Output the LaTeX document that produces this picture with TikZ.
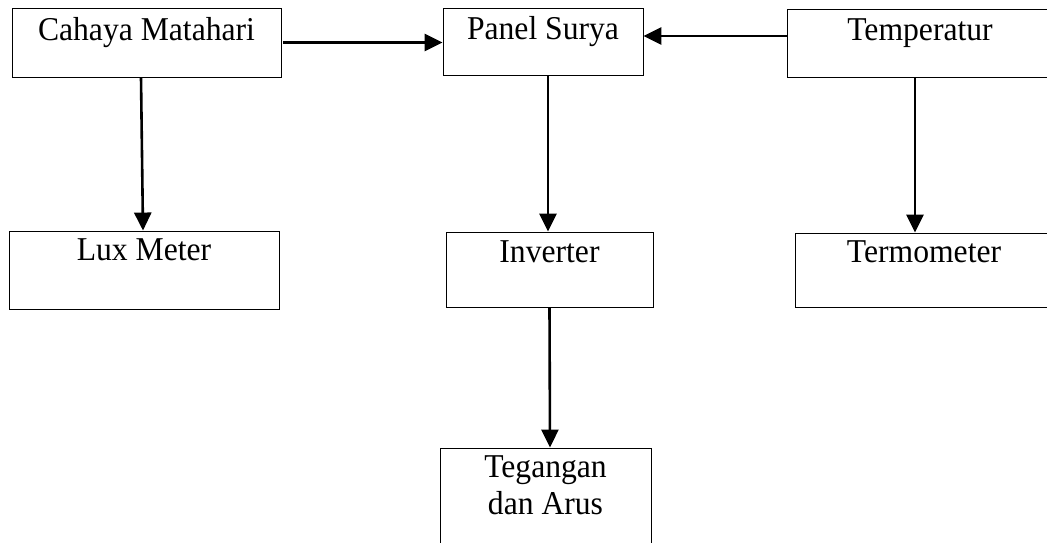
\documentclass[tikz,border=0pt]{standalone}
\usepackage{fontspec}
\setmainfont[FakeStretch=0.95]{Liberation Serif}
\usetikzlibrary{arrows.meta}

\tikzset{
  kotak/.style={draw, line width=0.9pt, inner sep=0pt},
  judul/.style={anchor=base, inner sep=0pt, font=\fontsize{33.3}{37}\selectfont, align=center},
  panah/.style={line width=2.6pt, -{Triangle[length=18pt,width=17pt]}}
}

\begin{document}
\begin{tikzpicture}[x=1pt,y=-1pt]
  \useasboundingbox (0,0) rectangle (1047,542);
  % kotak baris atas
  \node[kotak, minimum width=269pt, minimum height=69pt] (cahaya) at (146.5,42.5) {};
  \node[kotak, minimum width=200pt, minimum height=67pt] (panel) at (543,41.5) {};
  \node[kotak, minimum width=266pt, minimum height=68pt] (suhu) at (920,43) {};
  % kotak baris tengah
  \node[kotak, minimum width=270pt, minimum height=78pt] (lux) at (144,270) {};
  \node[kotak, minimum width=207pt, minimum height=75pt] (inverter) at (549.5,269.5) {};
  \node[kotak, minimum width=258pt, minimum height=74pt] (termo) at (924,270) {};
  % kotak bawah
  \node[kotak, minimum width=211pt, minimum height=110pt] (tegangan) at (545.5,503) {};

  % teks
  \node[judul] (tcahaya) at ([yshift=-33pt]cahaya.north) {Cahaya Matahari};
  \node[judul] (tpanel) at ([yshift=-32pt]panel.north) {Panel Surya};
  \node[judul] (tsuhu) at ([yshift=-32pt]suhu.north) {Temperatur};
  \node[judul] (tlux) at ([yshift=-30pt]lux.north) {Lux Meter};
  \node[judul] (tinverter) at ([yshift=-31pt]inverter.north) {Inverter};
  \node[judul] (ttermo) at ([yshift=-30pt]termo.north) {Termometer};
  \node[judul, anchor=north] (ttegangan) at ([yshift=-8pt]tegangan.north) {Tegangan\\dan Arus};

  % panah
  \draw[panah] ([xshift=2pt]cahaya.east) -- (cahaya.east -| panel.west);
  \draw[panah] ([yshift=7pt]suhu.west) -- ([yshift=7pt]suhu.west -| panel.east);
  \draw[panah] ([xshift=-5.5pt]cahaya.south) -- ([xshift=-1pt]lux.north);
  \draw[panah] ([xshift=5pt]panel.south) -- ([xshift=-1.5pt]inverter.north);
  \draw[panah] ([xshift=-5pt]suhu.south) -- ([xshift=-9pt]termo.north);
  \draw[panah] (inverter.south) -- ([xshift=4.5pt]tegangan.north);
\end{tikzpicture}
\end{document}
